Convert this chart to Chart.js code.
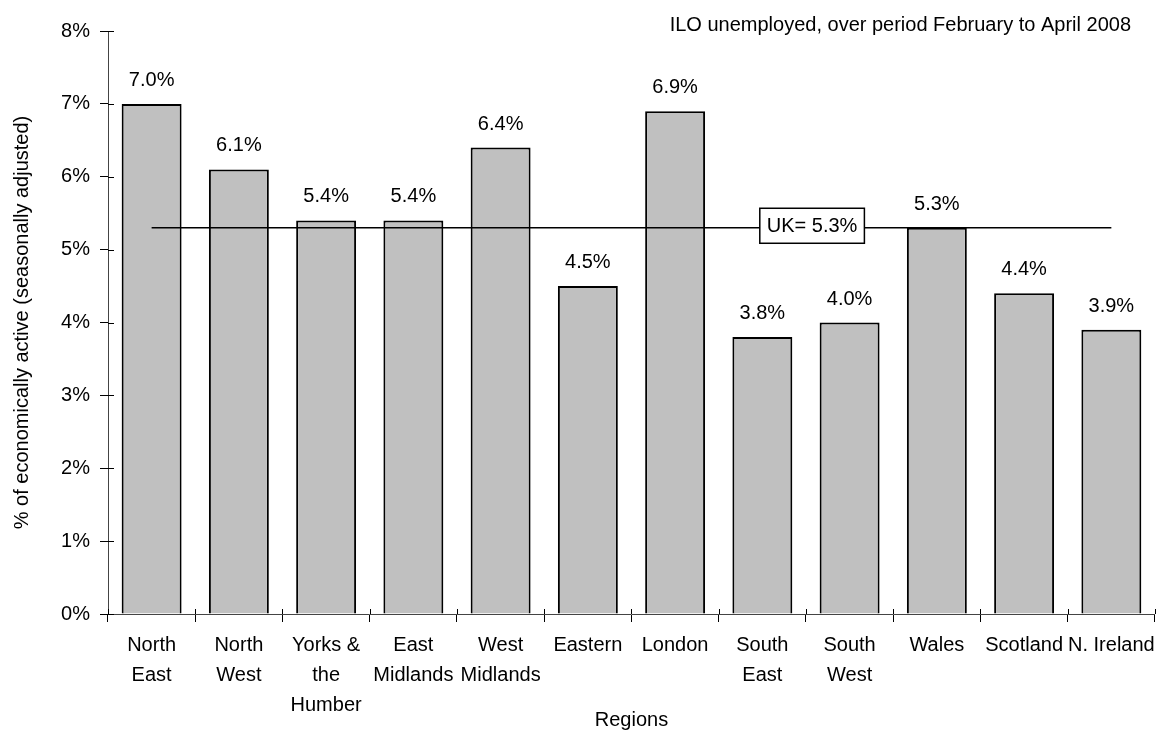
<!DOCTYPE html>
<html>
<head>
<meta charset="utf-8">
<title>ILO unemployment by region</title>
<script src="https://cdn.jsdelivr.net/npm/chart.js@4.4.1/dist/chart.umd.min.js"></script>
<style>
  html, body { margin: 0; padding: 0; background: #fff; }
  #wrap { width: 1163px; height: 734px; position: relative; }
</style>
</head>
<body>
<div id="wrap"><canvas id="chart"></canvas></div>
<script>
// regions (multi-line labels as in the original)
const REGIONS = [
  ["North", "East"], ["North", "West"], ["Yorks &", "the", "Humber"], ["East", "Midlands"],
  ["West", "Midlands"], ["Eastern"], ["London"], ["South", "East"], ["South", "West"],
  ["Wales"], ["Scotland"], ["N. Ireland"]
];
// ILO unemployment rate, % of economically active
const RATES = [7.0, 6.1, 5.4, 5.4, 6.4, 4.5, 6.9, 3.8, 4.0, 5.3, 4.4, 3.9];
// UK average line
const UK_RATE = [5.3, 5.3, 5.3, 5.3, 5.3, 5.3, 5.3, 5.3, 5.3, 5.3, 5.3, 5.3];
const UK_LABEL = "UK= 5.3%";
const Y_TICKS = [0, 1, 2, 3, 4, 5, 6, 7, 8];

const FONT = "'Liberation Sans', Arial, sans-serif";
const TITLE = "ILO unemployed, over period February to April 2008";

// value labels over the bars, UK box, top-right note, inner tick halves
const extras = {
  id: "extras",
  afterDatasetsDraw(chart) {
    const ctx = chart.ctx;
    const xs = chart.scales.x, ys = chart.scales.y;
    const area = chart.chartArea;
    ctx.save();
    ctx.fillStyle = "#000";
    ctx.font = "20px " + FONT;
    ctx.textAlign = "center";
    ctx.textBaseline = "alphabetic";
    const meta = chart.getDatasetMeta(1);
    meta.data.forEach((bar, i) => {
      ctx.fillText(RATES[i].toFixed(1) + "%", bar.x, bar.y - 18);
    });

    // UK box
    const bx = xs.getPixelForValue(7.57);
    const by = ys.getPixelForValue(UK_RATE[0]) - 2;
    const w = ctx.measureText(UK_LABEL).width + 14, h = 35;
    ctx.fillStyle = "#fff";
    ctx.fillRect(bx - w / 2, by - h / 2, w, h);
    ctx.strokeStyle = "#000";
    ctx.lineWidth = 1.5;
    ctx.strokeRect(bx - w / 2, by - h / 2, w, h);
    ctx.fillStyle = "#000";
    ctx.textBaseline = "middle";
    ctx.fillText(UK_LABEL, bx, by + 1);

    // note top right
    ctx.textAlign = "right";
    ctx.textBaseline = "alphabetic";
    ctx.fillText(TITLE, 1131, 31);

    // tick halves inside the plot
    ctx.strokeStyle = "#000";
    ctx.lineWidth = 1;
    ctx.beginPath();
    Y_TICKS.forEach(v => {
      const py = Math.round(ys.getPixelForValue(v)) + 0.5;
      ctx.moveTo(area.left, py); ctx.lineTo(area.left + 6, py);
    });
    for (let i = 0; i <= REGIONS.length; i++) {
      const px = Math.round(xs.getPixelForValue(i - 0.5)) + 0.5;
      ctx.moveTo(px, area.bottom); ctx.lineTo(px, area.bottom - 5);
    }
    ctx.stroke();
    ctx.restore();
  }
};

new Chart(document.getElementById("chart"), {
  data: {
    labels: REGIONS,
    datasets: [
      {
        type: "line", label: "UK", data: UK_RATE, order: 0,
        borderColor: "#000", borderWidth: 1.5, pointRadius: 0, fill: false, tension: 0
      },
      {
        type: "bar", label: "Rate", data: RATES, order: 1,
        backgroundColor: "#c0c0c0", borderColor: "#000", borderWidth: 2,
        barPercentage: 0.687, categoryPercentage: 1
      }
    ]
  },
  options: {
    responsive: true,
    maintainAspectRatio: false,
    animation: false,
    layout: { padding: { top: 31, right: 7, bottom: 0, left: 0 } },
    plugins: { legend: { display: false }, tooltip: { enabled: false } },
    scales: {
      x: {
        offset: true,
        grid: { display: true, offset: true, drawOnChartArea: false, drawTicks: true, tickLength: 8, color: "#000" },
        border: { color: "#444", width: 1 },
        ticks: {
          color: "#000", font: { family: FONT, size: 20, lineHeight: 1.5 },
          padding: 8, maxRotation: 0, minRotation: 0, autoSkip: false
        },
        title: { display: true, text: "Regions", color: "#000", font: { family: FONT, size: 20 }, padding: { top: 0, bottom: 2 } },
        afterFit(scale) { scale.height = 120; }
      },
      y: {
        min: 0, max: 8,
        afterBuildTicks(scale) { scale.ticks = Y_TICKS.map(v => ({ value: v })); },
        grid: { display: true, drawOnChartArea: false, drawTicks: true, tickLength: 8, color: "#000" },
        border: { color: "#444", width: 1 },
        ticks: { color: "#000", font: { family: FONT, size: 20 }, padding: 10, callback: v => v + "%" },
        title: {
          display: true, text: "% of economically active (seasonally adjusted)",
          color: "#000", font: { family: FONT, size: 20 }, padding: { top: 10, bottom: 0 }
        },
        afterFit(scale) { scale.width = 108; }
      }
    }
  },
  plugins: [extras]
});
</script>
</body>
</html>
